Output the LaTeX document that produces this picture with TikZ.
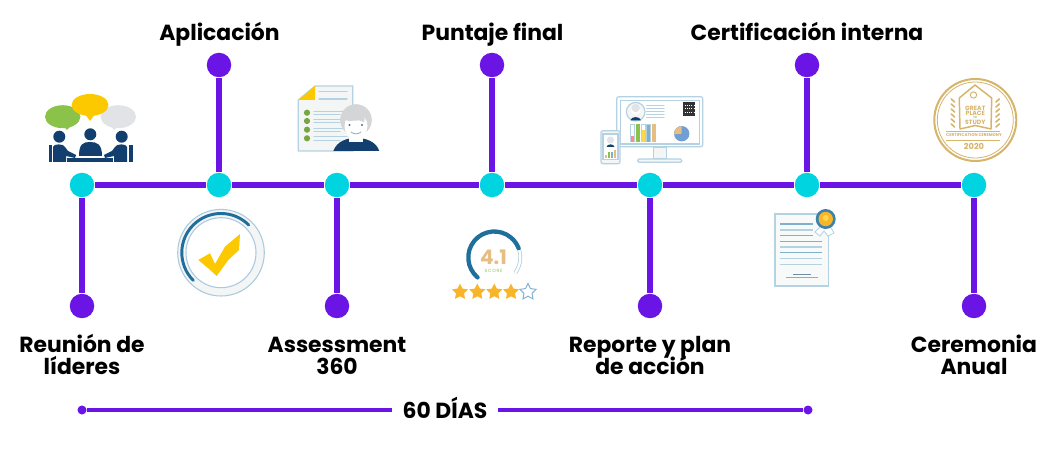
\documentclass[tikz,border=0pt]{standalone}
\usepackage{fontspec}
\setmainfont{Poppins}
\usetikzlibrary{shapes.geometric}
\definecolor{lineP}{HTML}{6A14E6}
\definecolor{dotT}{HTML}{00D4E0}
\definecolor{navy}{HTML}{123F6D}
\definecolor{gold}{HTML}{FCC800}
\definecolor{leaf}{HTML}{8BC34A}
\definecolor{mist}{HTML}{E1E3E6}
\definecolor{paleB}{HTML}{B5D2E3}
\definecolor{midB}{HTML}{7FB0CE}
\definecolor{deepB}{HTML}{1F6E9C}
\definecolor{paper}{HTML}{F4F5F5}
\definecolor{seal}{HTML}{D6B46A}
\definecolor{tanC}{HTML}{E6BE82}
\definecolor{starC}{HTML}{F9B52A}
\definecolor{hairC}{HTML}{D3D5D6}
\tikzset{
  tdot/.style={circle,fill=dotT,draw=none,minimum size=24.5*0.75pt,inner sep=0pt},
  edot/.style={circle,fill=lineP,draw=none,minimum size=24.5*0.75pt,inner sep=0pt},
  sdot/.style={circle,fill=lineP,draw=none,minimum size=9*0.75pt,inner sep=0pt},
  mainline/.style={draw=lineP,line width=5.2pt},
  subline/.style={draw=lineP,line width=2.6pt},
  label/.style={font=\fontsize{16.4pt}{18pt}\selectfont\bfseries,text=black,align=center,inner sep=0pt,text height=12pt,text depth=3.5pt},
  icon/.style={line width=.9pt,draw=paleB},
  thinb/.style={line width=.8pt,draw=paleB,line cap=round},
  starshape/.style={star,star points=5,star point ratio=2.0,minimum size=17*0.75pt,inner sep=0pt,fill=starC,draw=none},
  tiny/.style={inner sep=0pt,align=center}
}
\begin{document}
\begin{tikzpicture}[x=0.75pt,y=-0.75pt]
\useasboundingbox (0,0) rectangle (1058,449);
\fill[white] (0,0) rectangle (1058,449);
% ---- icon 1: meeting
\fill[leaf] (62.7,116.7) ellipse (17.7 and 11.5);
\fill[leaf] (62,125) -- (72,125) -- (67,130) -- cycle;
\fill[mist] (118.3,116.7) ellipse (17.7 and 11.5);
\fill[mist] (110,125) -- (120,125) -- (114,130) -- cycle;
\fill[gold] (90,105) ellipse (18.5 and 11);
\fill[gold] (85,114) -- (95,114) -- (90,121) -- cycle;
\begin{scope}[navy]
\fill (59.3,136.7) circle (6);
\fill (90.3,134.3) circle (6);
\fill (121.7,136.7) circle (6);
\fill (49,145.5) rectangle (51.5,162);
\fill (129,145.5) rectangle (132.5,162);
\fill (53,162) -- (53,147) .. controls (53,143.5) and (64,143.5) .. (65,147) -- (68,151) -- (76,155) -- (75,158) -- (66,156) -- (66,162) -- cycle;
\fill (127,162) -- (127,147) .. controls (127,143.5) and (116,143.5) .. (115,147) -- (112,151) -- (104,155) -- (105,158) -- (114,156) -- (114,162) -- cycle;
\fill (79,156) .. controls (79,144) and (83,142) .. (90,142) .. controls (97,142) and (102,144) .. (102,156) -- cycle;
\fill (67.3,158) rectangle (112.7,162);
\end{scope}
% ---- icon 2: questionnaire and person
\fill[paper,draw=paleB,line width=.9pt] (315,86) -- (352.7,86) -- (352.7,151) -- (298.3,151) -- (298.3,100) -- cycle;
\fill[gold] (315,86) -- (315,100) -- (298.3,100) -- cycle;
\foreach \yy in {91.5,99} \draw[thinb] (319,\yy) -- (347,\yy);
\foreach \yy in {112.7,121,129.7,138.3} {
  \fill[leaf!85!black] (307,\yy) circle (3.1);
  \draw[thinb] (314,\yy-1.5) -- (347,\yy-1.5);
  \draw[thinb] (314,\yy+1.8) -- (340,\yy+1.8);
}
\fill[navy] (333.3,151) .. controls (337,141) and (347,138) .. (356,138) .. controls (365,138) and (376,141) .. (379.3,151) -- cycle;
\fill[white] (349,137) rectangle (363,142);
\fill[hairC] (356,120) circle (15.8);
\fill[white] (356,126) ellipse (11.5 and 13);
\fill[hairC] (345,120) .. controls (350,123) and (358,118) .. (364,122) .. controls (366,119) and (364,110) .. (356,110) .. controls (349,110) and (345,114) .. (345,120) -- cycle;
\fill[navy!75] (349.5,125) circle (1.1) (362,125) circle (1.1);
\draw[midB,line width=.6pt] (351,132) .. controls (354,134.5) and (358,134.5) .. (361,132);
% ---- icon 3: monitor and phone
\draw[icon,rounded corners=1.5pt,fill=white] (616.7,96.7) rectangle (702.7,146.7);
\draw[icon,fill=white] (620.7,100.7) rectangle (699.3,144);
\draw[icon,fill=paper] (653.3,147.3) rectangle (666.7,159);
\draw[icon,fill=paper,rounded corners=1pt] (637.7,159) rectangle (681.7,162.3);
\draw[icon,fill=paper] (635.7,111.7) circle (9.3);
\fill[white] (635.7,110) circle (5);
\fill[mist] (635.7,108) circle (4.2);
\fill[navy] (630.5,120.3) .. controls (631,116) and (640,116) .. (641,120.3) -- cycle;
\foreach \yy in {105.7,108.7,111.7,114.7,117.3} \draw[thinb] (646.7,\yy) -- (664,\yy);
\fill[black!80] (683.3,102.3) rectangle (695.3,115.7);
\foreach \yy in {105.5,108.8,112.1} \draw[white,densely dotted,line width=.7pt] (684.5,\yy) -- (694.5,\yy);
\foreach \xa/\col/\yt in {630.7/red!45/136,636/leaf/124,641.7/gold!70/130,646.7/midB/125,652/tanC/124} {
  \draw[paleB,fill=white,line width=.5pt] (\xa,124) rectangle +(3.6,17.7);
  \fill[\col] (\xa,\yt) rectangle (\xa+3.6,141.7);
}
\fill[midB!90!blue] (681.7,133.7) circle (7.7);
\fill[tanC] (681.7,133.7) -- ++(175:7.7) arc[start angle=175,end angle=270,radius=7.7] -- cycle;
\draw[icon,fill=paper,rounded corners=1.5pt] (601,130.7) rectangle (620,163.7);
\draw[thinb,fill=white] (603,134) rectangle (618,159.5);
\fill[mist] (610.5,140) circle (3.6);
\fill[navy] (606.5,147) .. controls (607,143.5) and (614,143.5) .. (614.5,147) -- cycle;
\foreach \xa/\col/\yt in {605/tanC/155,608/leaf/152,611/midB/152,614/tanC/150} \fill[\col] (\xa,\yt) rectangle (\xa+2,158.5);
% ---- icon 4: seal
\begin{scope}[seal]
\draw[line width=1.5pt] (975.3,120) circle (41);
\draw[line width=.6pt] (975.3,120) circle (38);
\draw[line width=1.1pt,fill=white,line join=round] (959.3,98) -- (975,85) -- (991.7,98) -- (991,129) -- (975.3,125.5) -- (960,129) -- cycle;
\draw[line width=.7pt] (973.5,95) circle (3.2);
\foreach \yy in {102,107,112,117,122,127} {
  \draw[line width=1.2pt,line cap=round] (954.5,\yy) -- +(-3.2,-3);
  \draw[line width=1.2pt,line cap=round] (996,\yy) -- +(3.2,-3);
}
\draw[line width=.7pt] (946,131) -- (1000,131);
\draw[line width=.7pt] (946,140) -- (1000,140);
\end{scope}
\node[tiny,text=seal,font=\fontsize{4.6pt}{5pt}\selectfont\bfseries] (sealA) at (975.3,108) {GREAT};
\node[tiny,text=seal,font=\fontsize{4.6pt}{5pt}\selectfont\bfseries] (sealB) at (975.3,113) {PLACE};
\node[tiny,text=seal,font=\fontsize{2.6pt}{3pt}\selectfont\bfseries] (sealC) at (975.3,117) {to};
\node[tiny,text=seal,font=\fontsize{4.6pt}{5pt}\selectfont\bfseries] (sealD) at (975.3,122) {STUDY};
\node[tiny,text=seal,font=\fontsize{3.1pt}{4pt}\selectfont\bfseries] (sealE) at (974,135.5) {CERTIFICATION CEREMONY};
\node[tiny,text=seal,font=\fontsize{6.2pt}{7pt}\selectfont\bfseries] (sealF) at (974,146) {2020};
% ---- icon 5: check ring
\draw[paleB!80!midB,line width=.8pt,fill=paper,even odd rule] (221,252.7) circle (43.3) (221,252.7) circle (35);
\draw[deepB,line width=2.2pt,line cap=round] (221,252.7) ++(-45:39.2) arc[start angle=-45,end angle=-225,radius=39.2];
\fill[gold] (198.3,260) -- (210,253.3) -- (215,264) -- (225,246.7) -- (240,234) -- (239,250) -- (228.3,260) -- (216.7,276) -- (208.3,268.3) -- cycle;
% ---- icon 6: score
\draw[midB!70,line width=2.8pt] (494.3,257.5) ++(-21:26) arc[start angle=-21,end angle=36,radius=26];
\draw[white,line width=1.8pt] (494.3,257.5) ++(-21:26) arc[start angle=-21,end angle=36,radius=26];
\draw[deepB,line width=3.2pt,line cap=round] (494.3,257.5) ++(130:26) arc[start angle=130,end angle=339,radius=26];
\node[tiny,text=tanC,font=\fontsize{15pt}{15pt}\selectfont\bfseries] (score) at (493.5,257.5) {4.1};
\node[tiny,text=leaf,font=\fontsize{3.4pt}{4pt}\selectfont] (scorelbl) at (493.5,270.5) {S\,C\,O\,R\,E};
\node[starshape] (s1) at (460,292) {};
\node[starshape] (s2) at (477.3,292) {};
\node[starshape] (s3) at (494.3,292) {};
\node[starshape] (s4) at (511,292) {};
\node[starshape,fill=white,draw=midB,line width=.7pt] (s5) at (528,292) {};
% ---- icon 7: certificate
\draw[icon,fill=paper!60!white] (775,214) rectangle (828.3,286);
\foreach \yy in {224,235.7} \draw[midB,line width=.9pt] (780,\yy) -- (812.7,\yy);
\draw[paleB,line width=.9pt] (780,230) -- (812.7,230);
\foreach \yy in {241.3,252.7} \draw[midB,line width=.9pt] (780,\yy) -- (821.7,\yy);
\foreach \yy in {247,258.7,264.7} \draw[paleB,line width=.9pt] (780,\yy) -- (821.7,\yy);
\draw[navy!60,line width=.7pt] (793,274) -- (811,274);
\draw[midB,line width=.7pt] (786,277.5) -- (818,277.5);
\fill[white] (821,226) -- (815,232) -- (820,236) -- (824,231) -- (828,236) -- (834,233) -- (830,226) -- cycle;
\draw[paleB,line width=.6pt] (821,226) -- (815,232) -- (820,236) -- (824,231) -- (828,236) -- (834,233) -- (830,226);
\fill[deepB!70!midB] (825.7,219) circle (10);
\fill[starC] (825.7,219) circle (7.2);
\fill[gold!70!white] (825.7,218) circle (3);
% ---- timeline
\node[tdot] (t1) at (82,185) {};
\node[tdot] (t2) at (219,185) {};
\node[tdot] (t3) at (337,185) {};
\node[tdot] (t4) at (492,185) {};
\node[tdot] (t5) at (650,185) {};
\node[tdot] (t6) at (807,185) {};
\node[tdot] (t7) at (974,185) {};
\node[edot] (e1) at (82,306) {};
\node[edot] (e2) at (219,65) {};
\node[edot] (e3) at (337,306) {};
\node[edot] (e4) at (492,65) {};
\node[edot] (e5) at (650,306) {};
\node[edot] (e6) at (807,65) {};
\node[edot] (e7) at (974,306) {};
\draw[mainline] (t1) -- (t2);
\draw[mainline] (t2) -- (t3);
\draw[mainline] (t3) -- (t4);
\draw[mainline] (t4) -- (t5);
\draw[mainline] (t5) -- (t6);
\draw[mainline] (t6) -- (t7);
\draw[mainline] (t1) -- (e1);
\draw[mainline] (t2) -- (e2);
\draw[mainline] (t3) -- (e3);
\draw[mainline] (t4) -- (e4);
\draw[mainline] (t5) -- (e5);
\draw[mainline] (t6) -- (e6);
\draw[mainline] (t7) -- (e7);
% ---- labels
\node[label] (l2) at (219.5,35) {Aplicación};
\node[label] (l4) at (492.5,35) {Puntaje final};
\node[label] (l6) at (807,35) {Certificación interna};
\node[label] (l1a) at (82,347) {Reunión de};
\node[label] (l1b) at (82,369) {líderes};
\node[label] (l3a) at (337,347) {Assessment};
\node[label] (l3b) at (337,369) {360};
\node[label] (l5a) at (650,347) {Reporte y plan};
\node[label] (l5b) at (650,369) {de acción};
\node[label] (l7a) at (974,347) {Ceremonia};
\node[label] (l7b) at (974,369) {Anual};
% ---- 60 days bar
\node[sdot] (b1) at (82,410) {};
\node[sdot] (b2) at (808,410) {};
\node[label,inner xsep=8pt] (days) at (445,413) {60 DÍAS};
\draw[subline] (b1) -- (b1 -| days.west);
\draw[subline] (b2 -| days.east) -- (b2);
\end{tikzpicture}
\end{document}
